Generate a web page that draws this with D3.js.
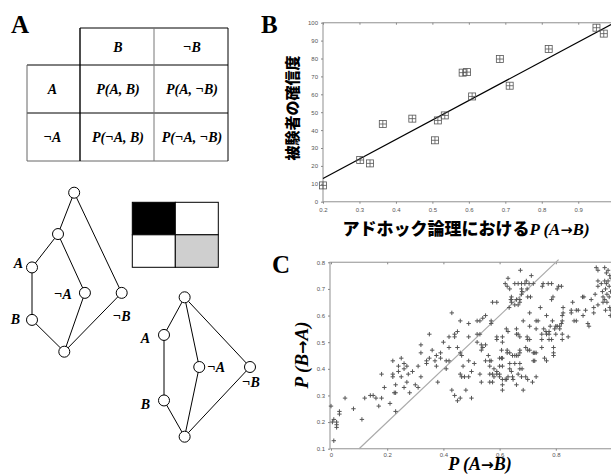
<!DOCTYPE html>
<meta charset="utf-8">
<style>
body { margin: 0; background: #fff; }
svg text { font-family: "Liberation Serif", serif; }
.tick text { font: 6px "Liberation Sans", sans-serif; fill: #555; }
.frame { fill: none; stroke: #aaa; stroke-width: 1.3; }
.axis path { display: none; }
.axis line { stroke: #888; }
.bi { font-weight: bold; font-style: italic; }
.arrow { font-family: "DejaVu Sans", sans-serif; font-style: normal; font-weight: bold; }
.panel { font-weight: bold; font-size: 25px; }
</style>
<svg width="611" height="475"></svg>
<script src="https://d3js.org/d3.v7.min.js"></script>
<script>
// ---- panel A: joint table ----
var colHeads = ["", "B", "¬B"];
var rowHeads = ["", "A", "¬A"];
var cells = [
  ["P(A, B)", "P(A, ¬B)"],
  ["P(¬A, B)", "P(¬A, ¬B)"]
];
var squareShades = ["#000", "#fff", "#fff", "#cfcfcf"];

// lattices: node positions in unit box, edges as index pairs
var lattice1 = [
  {u: 0.47, v: 0}, {u: 0.29, v: 0.26}, {u: 0, v: 0.47, name: "A"},
  {u: 0, v: 0.80, name: "B"}, {u: 0.59, v: 0.63, name: "¬A"},
  {u: 1, v: 0.63, name: "¬B"}, {u: 0.36, v: 1}
];
var edges1 = [[0,1],[0,5],[1,2],[1,4],[2,3],[3,6],[4,6],[5,6]];
var lattice2 = [
  {u: 0.24, v: 0}, {u: 0, v: 0.27, name: "A"}, {u: 0, v: 0.74, name: "B"},
  {u: 0.41, v: 0.50, name: "¬A"}, {u: 1, v: 0.50, name: "¬B"}, {u: 0.24, v: 1}
];
var edges2 = [[0,1],[0,3],[0,4],[1,2],[2,5],[3,5],[4,5]];

// ---- panel B ----
var bX = [0.2, 0.302, 0.329, 0.364, 0.445, 0.507, 0.515, 0.534, 0.583, 0.595, 0.609, 0.685, 0.712, 0.819, 0.95, 0.97];
var bY = [9.1, 23.3, 21.4, 43.4, 46.4, 34.3, 45.4, 48.2, 72.1, 72.4, 58.8, 79.7, 64.8, 85.3, 97.2, 93.9];
var bFitX = [0.2, 0.99];
var bFitY = [13, 99];
var bXTicks = [0.2, 0.3, 0.4, 0.5, 0.6, 0.7, 0.8, 0.9];
var bYTicks = [0, 10, 20, 30, 40, 50, 60, 70, 80, 90, 100];

// ---- panel C ----
var cX = [0.0,0.01,0.005,0.02,0.02,0.02,0.01,0.03,0.03,0.05,0.08,0.11,0.12,0.14,0.15,0.16,0.17,0.18,0.18,0.19,
  0.21,0.22,0.22,0.22,0.225,0.23,0.23,0.23,0.24,0.24,0.25,0.25,0.26,0.27,0.26,0.26,0.27,0.275,0.28,0.29,
  0.30,0.31,0.31,0.32,0.32,0.32,0.34,0.34,0.35,0.35,0.36,0.37,0.375,0.38,0.375,0.39,0.39,0.40,0.41,0.42,
  0.41,0.42,0.42,0.43,0.43,0.44,0.45,0.44,0.44,0.45,0.46,0.45,0.46,0.465,0.46,0.465,0.46,0.47,0.475,0.49,
  0.48,0.49,0.49,0.49,0.50,0.50,0.51,0.52,0.53,0.52,0.52,0.53,0.53,0.54,0.535,0.54,0.535,0.535,0.55,0.55,
  0.55,0.56,0.565,0.565,0.57,0.565,0.565,0.575,0.57,0.57,0.575,0.59,0.58,0.575,0.58,0.59,0.59,0.60,0.60,0.59,
  0.59,0.60,0.607,0.61,0.607,0.61,0.61,0.61,0.62,0.625,0.61,0.61,0.62,0.627,0.627,0.627,0.636,0.63,0.634,0.636,
  0.642,0.642,0.636,0.642,0.646,0.648,0.646,0.654,0.66,0.666,0.654,0.666,0.678,0.654,0.666,0.66,0.66,0.666,0.672,0.672,
  0.672,0.672,0.672,0.68,0.666,0.678,0.674,0.678,0.678,0.68,0.684,0.69,0.695,0.698,0.705,0.693,0.70,0.707,0.698,0.70,
  0.707,0.693,0.70,0.70,0.71,0.707,0.713,0.72,0.72,0.725,0.73,0.72,0.725,0.717,0.73,0.73,0.737,0.745,0.75,0.75,
  0.75,0.752,0.755,0.76,0.767,0.757,0.765,0.767,0.767,0.773,0.785,0.776,0.776,0.776,0.78,0.788,0.785,0.79,0.785,0.792,
  0.792,0.792,0.796,0.805,0.80,0.80,0.805,0.81,0.82,0.814,0.814,0.82,0.823,0.823,0.826,0.826,0.823,0.823,0.844,0.855,
  0.855,0.86,0.865,0.873,0.873,0.88,0.895,0.90,0.897,0.906,0.914,0.918,0.926,0.935,0.935,0.94,0.944,0.95,0.95,0.95,
  0.95,0.962,0.966,0.968,0.968,0.974,0.98,0.974,0.98,0.977,0.982,0.974,0.982,0.977,0.986,0.986,0.99,0.99,0.992,0.992,
  0.60,0.61,0.636,0.654,0.66,0.63,0.64,0.642,0.66,0.672,0.672,0.624,0.63,0.684,0.707,0.73,0.995,0.997,0.996,0.994];
var cY = [0.26,0.21,0.20,0.20,0.19,0.18,0.13,0.24,0.23,0.29,0.25,0.21,0.29,0.30,0.30,0.29,0.26,0.29,0.38,0.33,
  0.27,0.43,0.38,0.37,0.31,0.31,0.34,0.24,0.41,0.39,0.44,0.37,0.42,0.41,0.40,0.33,0.35,0.38,0.31,0.39,
  0.34,0.33,0.41,0.49,0.46,0.37,0.42,0.43,0.44,0.53,0.47,0.43,0.45,0.35,0.41,0.44,0.46,0.50,0.43,0.43,
  0.40,0.48,0.52,0.61,0.32,0.53,0.54,0.52,0.30,0.28,0.29,0.48,0.46,0.45,0.38,0.37,0.58,0.41,0.37,0.37,
  0.32,0.52,0.57,0.43,0.39,0.29,0.42,0.53,0.53,0.50,0.58,0.58,0.38,0.59,0.47,0.48,0.49,0.35,0.60,0.49,
  0.43,0.45,0.43,0.41,0.43,0.38,0.35,0.35,0.58,0.57,0.65,0.65,0.40,0.38,0.37,0.39,0.38,0.38,0.37,0.52,
  0.51,0.44,0.44,0.44,0.47,0.50,0.52,0.36,0.36,0.36,0.34,0.32,0.72,0.71,0.47,0.46,0.46,0.74,0.63,0.70,
  0.67,0.66,0.40,0.39,0.37,0.36,0.45,0.45,0.45,0.45,0.72,0.72,0.72,0.64,0.64,0.55,0.53,0.53,0.52,0.47,
  0.46,0.42,0.40,0.40,0.38,0.37,0.77,0.68,0.70,0.69,0.32,0.72,0.73,0.70,0.72,0.48,0.47,0.47,0.52,0.51,
  0.51,0.37,0.36,0.67,0.67,0.61,0.75,0.72,0.46,0.46,0.46,0.43,0.43,0.35,0.37,0.58,0.58,0.63,0.48,0.51,
  0.53,0.71,0.72,0.44,0.43,0.55,0.54,0.53,0.60,0.72,0.72,0.51,0.53,0.54,0.56,0.58,0.66,0.67,0.51,0.48,
  0.46,0.45,0.55,0.56,0.53,0.56,0.70,0.71,0.71,0.55,0.56,0.57,0.60,0.58,0.61,0.63,0.53,0.51,0.52,0.62,
  0.61,0.65,0.58,0.58,0.62,0.62,0.67,0.67,0.60,0.62,0.57,0.56,0.66,0.61,0.63,0.68,0.78,0.77,0.73,0.71,
  0.64,0.72,0.69,0.67,0.65,0.78,0.76,0.73,0.72,0.70,0.68,0.66,0.65,0.62,0.77,0.73,0.71,0.67,0.63,0.75,
  0.41,0.41,0.42,0.42,0.34,0.37,0.66,0.65,0.66,0.65,0.66,0.55,0.54,0.58,0.56,0.55,0.69,0.74,0.62,0.60];
var cDiag = [0.1, 0.81];
var cXTicks = [0, 0.2, 0.4, 0.6, 0.8];
var cYTicks = [0.1, 0.2, 0.3, 0.4, 0.5, 0.6, 0.7, 0.8];

var svg = d3.select("svg");

// panel letters
svg.append("text").attr("class", "panel").attr("x", 11).attr("y", 33).text("A");
svg.append("text").attr("class", "panel").attr("x", 261).attr("y", 33).text("B");
svg.append("text").attr("class", "panel").attr("x", 272).attr("y", 273).text("C");

// formula label: italic letters, upright bold arrow
function formula(sel, a, b) {
  sel.append("tspan").attr("class", "bi").text("P (" + a);
  sel.append("tspan").attr("class", "arrow").attr("font-size", "0.85em").text("→");
  sel.append("tspan").attr("class", "bi").text(b + ")");
}

// ===== table =====
var colX = [27, 80, 154, 228];
var rowY = [28, 65, 113, 161];
var tab = svg.append("g");
tab.append("line").attr("x1", colX[1]).attr("x2", colX[3]).attr("y1", rowY[0]).attr("y2", rowY[0]).attr("stroke", "#000");
[1, 2, 3].forEach(function(r) {
  tab.append("line").attr("x1", colX[0]).attr("x2", colX[3]).attr("y1", rowY[r]).attr("y2", rowY[r])
    .attr("stroke", r == 3 ? "#666" : "#000");
});
tab.append("line").attr("x1", colX[0]).attr("x2", colX[0]).attr("y1", rowY[1]).attr("y2", rowY[3]).attr("stroke", "#666");
[1, 2, 3].forEach(function(c) {
  tab.append("line").attr("x1", colX[c]).attr("x2", colX[c]).attr("y1", rowY[0]).attr("y2", rowY[3])
    .attr("stroke", c == 2 ? "#777" : "#000").attr("stroke-width", c == 1 ? 1.4 : 1);
});
function cellText(c, r, s) {
  tab.append("text").attr("class", "bi").attr("font-size", 14)
    .attr("x", (colX[c] + colX[c + 1]) / 2 + (c == 0 ? -1 : 1)).attr("y", (rowY[r] + rowY[r + 1]) / 2 + 5)
    .attr("text-anchor", "middle").text(s);
}
colHeads.forEach(function(s, c) { if (s) cellText(c, 0, s); });
rowHeads.forEach(function(s, r) { if (s) cellText(0, r, s); });
cells.forEach(function(row, r) { row.forEach(function(s, c) { cellText(c + 1, r + 1, s); }); });

// ===== 2x2 shaded square =====
var sqX = d3.scaleBand().domain([0, 1]).range([132.3, 218.3]);
var sqY = d3.scaleBand().domain([0, 1]).range([202.3, 267.3]);
svg.append("g").selectAll("rect").data(squareShades).join("rect")
  .attr("x", function(d, i) { return sqX(i % 2); })
  .attr("y", function(d, i) { return sqY(Math.floor(i / 2)); })
  .attr("width", sqX.bandwidth()).attr("height", sqY.bandwidth())
  .attr("fill", function(d) { return d; }).attr("stroke", "#000").attr("stroke-width", 1);

// ===== lattices =====
function drawLattice(nodes, edges, xr, yr, labelPos) {
  var x = d3.scaleLinear().range(xr), y = d3.scaleLinear().range(yr);
  var g = svg.append("g");
  g.selectAll("line").data(edges).join("line")
    .attr("x1", function(e) { return x(nodes[e[0]].u); }).attr("y1", function(e) { return y(nodes[e[0]].v); })
    .attr("x2", function(e) { return x(nodes[e[1]].u); }).attr("y2", function(e) { return y(nodes[e[1]].v); })
    .attr("stroke", "#000").attr("stroke-width", 1);
  g.selectAll("circle").data(nodes).join("circle")
    .attr("cx", function(d) { return x(d.u); }).attr("cy", function(d) { return y(d.v); })
    .attr("r", 5.5).attr("fill", "#fff").attr("stroke", "#000");
  g.selectAll("text").data(nodes.filter(function(d) { return d.name; })).join("text")
    .attr("class", "bi").attr("font-size", 14)
    .attr("x", function(d) { return x(d.u) + labelPos[d.name][0]; })
    .attr("y", function(d) { return y(d.v) + labelPos[d.name][1]; })
    .attr("text-anchor", function(d) { return labelPos[d.name][2]; })
    .text(function(d) { return d.name; });
}
drawLattice(lattice1, edges1, [32, 121.7], [192.7, 351.7],
  {"A": [-9, 1, "end"], "B": [-12, 4, "end"], "¬A": [-13, 6, "end"], "¬B": [-9, 28, "start"]});
drawLattice(lattice2, edges2, [164, 250], [297.3, 436.7],
  {"A": [-14, 8, "end"], "B": [-14, 9, "end"], "¬A": [8, 5, "start"], "¬B": [-8, 20, "start"]});

// ===== panel B =====
var xB = d3.scaleLinear().domain([0.2, 1.0]).range([323, 614.7]);
var yB = d3.scaleLinear().domain([0, 100]).range([201.7, 22.7]);
var gB = svg.append("g");
gB.append("rect").attr("class", "frame").attr("x", xB(0.2)).attr("y", yB(100))
  .attr("width", xB(1.0) - xB(0.2)).attr("height", yB(0) - yB(100));
gB.append("g").attr("class", "axis").attr("transform", "translate(0," + yB(0) + ")")
  .call(d3.axisBottom(xB).tickValues(bXTicks).tickSize(2).tickPadding(4).tickFormat(d3.format(".1f")));
gB.append("g").attr("class", "axis").attr("transform", "translate(0," + yB(100) + ")")
  .call(d3.axisTop(xB).tickValues(bXTicks).tickSize(-2).tickFormat(""));
gB.append("g").attr("class", "axis").attr("transform", "translate(" + xB(0.2) + ",0)")
  .call(d3.axisLeft(yB).tickValues(bYTicks).tickSize(2).tickPadding(3));
gB.append("line")
  .attr("x1", xB(bFitX[0])).attr("y1", yB(bFitY[0])).attr("x2", xB(bFitX[1])).attr("y2", yB(bFitY[1]))
  .attr("stroke", "#000").attr("stroke-width", 1.2);
var mk = gB.selectAll("g.mk").data(bX).join("g").attr("class", "mk")
  .attr("transform", function(d, i) { return "translate(" + xB(d) + "," + yB(bY[i]) + ")"; })
  .attr("stroke", "#555").attr("stroke-width", 0.8).attr("fill", "none");
mk.append("rect").attr("x", -3.5).attr("y", -3.5).attr("width", 7).attr("height", 7);
mk.append("path").attr("d", "M-3.5,0H3.5M0,-3.5V3.5");
svg.append("text").attr("transform", "translate(298,108) rotate(-90)").attr("text-anchor", "middle")
  .style("font-family", "'Noto Sans CJK JP', sans-serif")
  .attr("font-weight", 900).attr("font-size", 15).text("被験者の確信度");
var bt = svg.append("text").attr("x", 466).attr("y", 235).attr("text-anchor", "middle").attr("font-size", 17);
bt.append("tspan").style("font-family", "'Noto Sans CJK JP', sans-serif").attr("font-weight", 900)
  .text("アドホック論理における");
formula(bt, "A", "B");

// ===== panel C =====
var xC = d3.scaleLinear().domain([0, 1]).range([331, 612]);
var yC = d3.scaleLinear().domain([0.1, 0.8]).range([448.7, 262.3]);
var gC = svg.append("g");
gC.append("rect").attr("class", "frame").attr("x", xC(0) - 1).attr("y", yC(0.8))
  .attr("width", xC(1) - xC(0) + 5).attr("height", yC(0.1) - yC(0.8));
gC.append("g").attr("class", "axis").attr("transform", "translate(0," + yC(0.1) + ")")
  .call(d3.axisBottom(xC).tickValues(cXTicks).tickSize(2).tickPadding(2).tickFormat(function(d) { return d ? d3.format(".1f")(d) : "0"; }));
gC.append("g").attr("class", "axis").attr("transform", "translate(0," + yC(0.8) + ")")
  .call(d3.axisTop(xC).tickValues(cXTicks).tickSize(-2).tickFormat(""));
gC.append("g").attr("class", "axis").attr("transform", "translate(" + (xC(0) - 1) + ",0)")
  .call(d3.axisLeft(yC).tickValues(cYTicks).tickSize(2).tickPadding(3).tickFormat(d3.format(".1f")));
gC.append("line")
  .attr("x1", xC(cDiag[0])).attr("y1", yC(cDiag[0])).attr("x2", xC(cDiag[1])).attr("y2", yC(cDiag[1]))
  .attr("stroke", "#aaa").attr("stroke-width", 1.2);
gC.selectAll("path.pt").data(cX).join("path").attr("class", "pt")
  .attr("transform", function(d, i) { return "translate(" + xC(d) + "," + yC(cY[i]) + ")"; })
  .attr("d", "M-2.2,0H2.2M0,-2.2V2.2").attr("stroke", "#555").attr("stroke-width", 1);
var cyl = svg.append("text").attr("font-size", 19).attr("text-anchor", "middle")
  .attr("transform", "translate(308,355) rotate(-90)");
formula(cyl, "B", "A");
var cxl = svg.append("text").attr("font-size", 18).attr("text-anchor", "middle")
  .attr("x", 480).attr("y", 470);
formula(cxl, "A", "B");
</script>
